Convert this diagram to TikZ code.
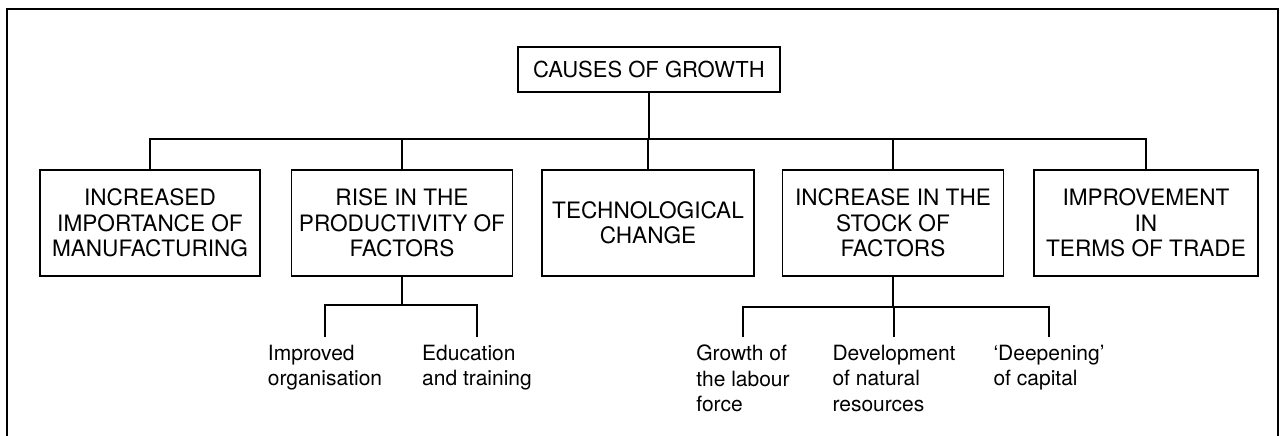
\documentclass[tikz,border=0pt]{standalone}
\usepackage{fontspec}
\setmainfont{TeX Gyre Heros}
\begin{document}
\begin{tikzpicture}[x=1pt,y=-1pt,
  line width=1.7pt,
  box/.style={draw, rectangle, minimum height=106pt, inner sep=0pt,
    align=center, font=\fontsize{22.6}{25.5}\selectfont},
  leaf/.style={anchor=north, align=left, inner xsep=0pt, inner ysep=7pt,
    font=\fontsize{21}{25.5}\selectfont},
  link/.style={line width=1.7pt}]
\useasboundingbox (0,0) rectangle (1282,436);
% open frame around the chart
\draw (7,436) -- (7,9) -- (1278,9) -- (1278,436);

% root
\node[box, minimum width=262pt, minimum height=45pt,
  font=\fontsize{22}{25.5}\selectfont] (root) at (649,69.5) {CAUSES OF GROWTH};

% first level
\node[box, minimum width=220pt] (b1) at (150,223)
  {INCREASED\\IMPORTANCE OF\\MANUFACTURING};
\node[box, minimum width=221pt] (b2) at (402,223)
  {RISE IN THE\\PRODUCTIVITY OF\\FACTORS};
\node[box, minimum width=212pt] (b3) at (648,223)
  {TECHNOLOGICAL\\CHANGE};
\node[box, minimum width=221pt] (b4) at (893,223)
  {INCREASE IN THE\\STOCK OF\\FACTORS};
\node[box, minimum width=224pt] (b5) at (1146,223)
  {IMPROVEMENT\\IN\\TERMS OF TRADE};

% second level
\node[leaf] (p1) at (325,337) {Improved\\organisation};
\node[leaf] (p2) at (477,337) {Education\\and training};
\node[leaf] (k1) at (743,337) {Growth of\\the labour\\force};
\node[leaf] (k2) at (894,337) {Development\\of natural\\resources};
\node[leaf] (k3) at (1049,337) {`Deepening'\\of capital};

% junctions on the bars
\coordinate (bus) at (root.south |- 0,139);
\coordinate (busA) at (b2.south |- 0,305);
\coordinate (busB) at (b4.south |- 0,307);

% connectors
\draw[link] (root.south) -- (bus);
\foreach \n in {b1,b2,b3,b4,b5} \draw[link] (\n.north) |- (bus);
\draw[link] (b2.south) -- (busA);
\foreach \n in {p1,p2} \draw[link] (\n.north) |- (busA);
\draw[link] (b4.south) -- (busB);
\foreach \n in {k1,k2,k3} \draw[link] (\n.north) |- (busB);
\end{tikzpicture}
\end{document}
